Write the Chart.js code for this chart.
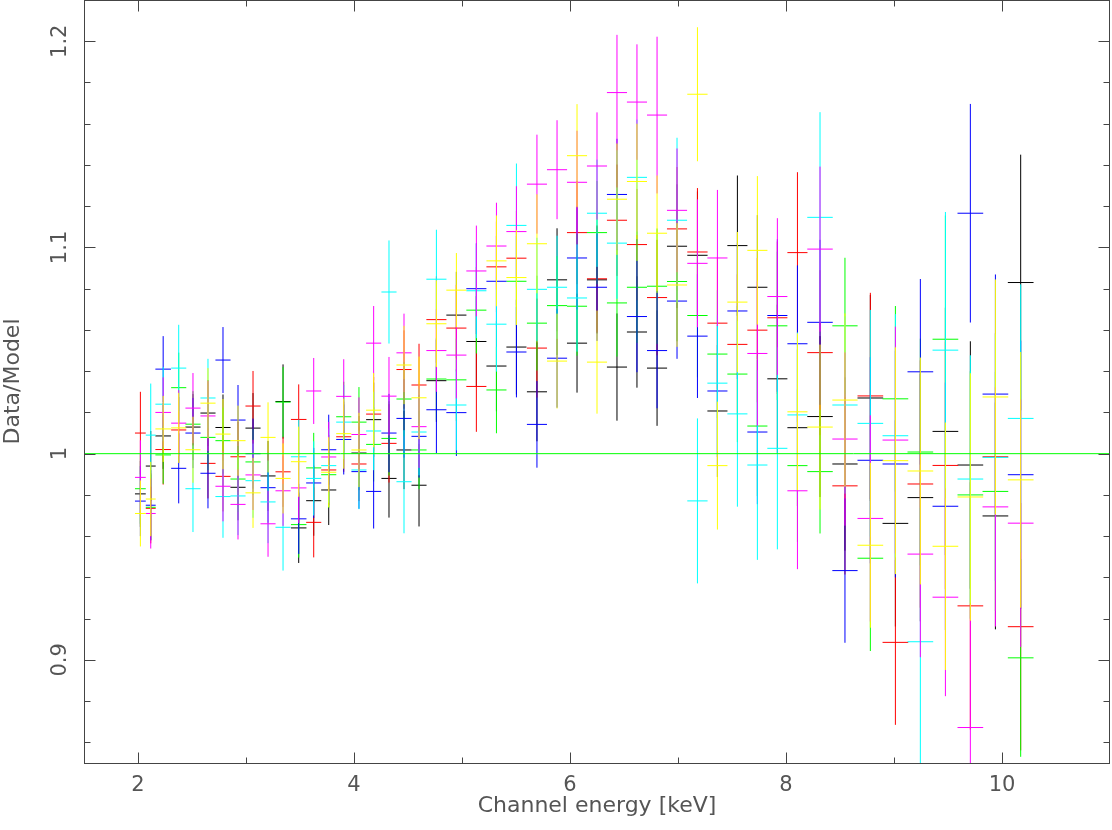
<!DOCTYPE html>
<html>
<head>
<meta charset="utf-8">
<script src="https://cdn.jsdelivr.net/npm/chart.js@4.4.1/dist/chart.umd.min.js"></script>
<style>
html,body{margin:0;padding:0;background:#ffffff;}
#wrap{width:1112px;height:830px;position:relative;}
</style>
</head>
<body>
<div id="wrap"><canvas id="c" width="1112" height="830"></canvas></div>
<script>
// Bin centres and half widths (keV), shared by all spectra
const energyKeV = [2.022,2.118,2.233,2.377,2.509,2.648,2.787,2.926,3.065,3.204,3.343,3.488,
  3.627,3.766,3.905,4.046,4.182,4.324,4.463,4.602,4.763,4.948,5.133,5.319,
  5.504,5.694,5.880,6.065,6.250,6.435,6.620,6.806,6.991,7.180,7.365,7.550,
  7.735,7.920,8.106,8.315,8.546,8.781,9.013,9.244,9.476,9.707,9.939,10.173];
const halfWidthKeV = [0.050,0.046,0.072,0.070,0.070,0.070,0.070,0.070,0.070,0.070,0.070,0.072,
  0.070,0.070,0.070,0.070,0.070,0.070,0.070,0.070,0.093,0.093,0.093,0.093,
  0.093,0.093,0.093,0.093,0.093,0.093,0.093,0.093,0.093,0.094,0.093,0.093,
  0.093,0.093,0.093,0.118,0.117,0.119,0.119,0.119,0.119,0.119,0.119,0.119];

// Data/Model ratios and 1-sigma errors per spectrum (null = no bin shown)
const ratioBlack = [0.9805,0.994,1.0086,null,1.0129,1.0197,1.0127,0.9837,1.0124,0.9892,1.0253,0.964,
  0.9772,0.9824,null,1.0003,1.0165,0.988,1.0018,0.9847,1.0354,1.0672,1.0544,1.0425,
  1.0517,1.030,1.0843,1.0536,1.0843,1.042,1.059,1.0415,1.1006,1.0962,1.0207,1.1009,
  1.0807,1.0363,1.0126,1.018,0.995,1.027,0.9662,0.9787,1.0108,0.9945,0.9698,1.083];
const errBlack = [0.016,0.017,0.016,null,0.016,0.016,0.016,0.016,0.017,0.017,0.018,0.017,
  0.017,0.017,null,0.018,0.018,0.019,0.019,0.020,0.020,0.021,0.022,0.022,
  0.023,0.024,0.025,0.024,0.026,0.026,0.027,0.028,0.030,0.031,0.032,0.034,
  0.035,0.036,0.038,0.039,0.042,0.050,0.050,0.060,0.060,0.060,0.055,0.062];

const ratioRed = [1.010,0.9735,1.002,1.0115,null,0.9953,0.989,0.9985,1.0231,null,0.9912,1.0166,
  0.9667,0.9921,1.0082,0.995,1.0192,1.005,1.0408,1.0333,1.065,1.0609,1.0326,1.0906,
  1.0948,1.0512,null,1.1072,1.0848,1.1132,1.1014,1.0757,1.109,1.0978,1.0633,1.053,
  1.0599,1.0659,1.0975,1.049,0.9844,1.028,0.9085,0.9853,0.9943,0.9262,0.9985,0.9161];
const errRed = [0.020,0.017,0.017,0.016,null,0.017,0.017,0.017,0.017,null,0.017,0.017,
  0.017,0.017,0.017,0.018,0.018,0.019,0.019,0.020,0.021,0.021,0.022,0.022,
  0.023,0.024,null,0.025,0.026,0.027,0.027,0.028,0.030,0.031,0.032,0.034,
  0.035,0.037,0.039,0.040,0.043,0.050,0.040,0.060,0.060,0.060,0.060,0.060];

const ratioGreen = [0.983,0.974,0.9994,1.032,1.0143,1.0079,1.0063,0.9877,0.996,null,1.025,0.9656,
  0.9931,0.9898,1.0179,1.0153,1.0045,1.0074,1.0265,1.0018,1.0362,1.0358,1.0696,1.0309,
  1.0836,1.0633,1.0718,1.0715,1.1072,1.0731,1.0807,1.0812,1.0835,1.067,1.0483,1.0386,
  1.0134,1.062,0.9942,0.9913,1.062,0.9493,1.0266,1.0008,1.0555,0.980,0.9817,0.901];
const errGreen = [0.017,0.016,0.014,0.017,0.016,0.016,0.016,0.016,0.016,null,0.017,0.016,
  0.017,0.016,0.017,0.017,0.018,0.018,0.018,0.019,0.020,0.020,0.021,0.021,
  0.022,0.023,0.024,0.024,0.025,0.026,0.027,0.028,0.029,0.030,0.031,0.033,
  0.034,0.036,0.037,0.030,0.033,0.045,0.045,0.055,0.060,0.060,0.058,0.048];

const ratioBlue = [0.977,0.975,1.041,0.9929,1.010,0.9905,1.0454,1.0163,1.000,0.9835,null,0.9684,
  0.9858,1.0019,1.0069,0.9913,0.9817,1.010,1.0171,1.0084,1.0213,1.0199,1.080,1.0836,
  1.0493,1.0142,1.0463,1.0949,1.0807,1.1257,1.0665,1.050,1.074,1.057,1.0304,1.0692,
  1.0105,1.067,1.0533,1.0637,0.9433,0.9968,0.995,1.0397,0.9745,1.1166,1.0289,0.9898];
const errBlue = [0.017,0.017,0.016,0.017,0.017,0.017,0.016,0.017,0.017,0.017,null,0.017,
  0.017,0.017,0.017,0.018,0.018,0.019,0.019,0.020,0.021,0.021,0.022,0.022,
  0.022,0.021,0.024,0.025,0.026,0.027,0.027,0.028,0.028,0.030,0.032,0.033,
  0.035,0.037,0.038,0.040,0.035,0.050,0.055,0.045,0.060,0.053,0.058,0.065];

const ratioCyan = [null,1.009,1.024,1.0415,0.983,1.027,0.9792,0.9795,0.9869,0.9766,0.9643,0.9985,
  0.988,0.9942,1.0153,0.9921,1.011,1.0784,0.9864,1.0105,1.0846,1.0236,1.079,1.0628,
  1.1107,1.0797,1.0807,1.0755,1.1166,1.1021,1.134,null,1.1132,0.9771,1.0342,1.0193,
  0.9945,1.0026,1.0188,1.1146,1.0236,1.0147,1.0087,0.9088,1.0502,0.9877,0.9982,1.0171];
const errCyan = [null,0.025,0.018,0.021,0.021,0.019,0.020,0.019,0.018,0.020,0.021,0.018,
  0.018,0.018,0.018,0.019,0.019,0.025,0.025,0.021,0.024,0.022,0.023,0.023,
  0.030,0.025,0.025,0.026,0.026,0.027,0.028,null,0.040,0.040,0.033,0.045,
  0.046,0.049,0.040,0.051,0.043,0.055,0.059,0.065,0.067,0.060,0.060,0.065];

const ratioMagenta = [0.9885,0.971,1.020,1.0148,1.0221,1.0183,0.9842,0.9754,0.9897,0.966,0.982,0.9834,
  1.0304,0.9984,1.0278,1.0093,1.0536,1.0279,1.0489,1.0131,1.050,1.0478,1.0886,1.1007,
  1.1077,1.1307,1.1377,1.1316,1.1395,1.1751,1.1705,1.1642,1.118,1.0923,1.0949,null,
  1.0486,1.0762,0.982,1.0992,1.0071,0.9686,1.0066,0.9513,0.9304,0.8672,0.9742,0.9663];
const errMagenta = [0.018,0.017,0.017,0.016,0.017,0.017,0.017,0.017,0.017,0.016,0.017,0.017,
  0.016,0.017,0.018,0.018,0.018,0.019,0.019,0.020,0.020,0.021,0.022,0.021,
  0.022,0.024,0.024,0.025,0.026,0.028,0.028,0.038,0.030,0.031,0.033,null,
  0.035,0.038,0.038,0.040,0.042,0.050,0.055,0.050,0.048,0.060,0.058,0.060];

const ratioYellow = [0.971,0.978,1.012,1.0125,1.0019,1.0245,1.0095,1.0063,0.981,1.0079,0.988,0.9961,
  null,0.991,1.0097,1.0018,1.0211,null,1.043,1.0271,1.063,1.0793,null,1.0935,
  1.0854,1.1018,1.0449,1.1445,1.0444,1.1234,1.132,1.1069,1.0818,1.1743,0.9942,1.0735,
  1.0986,null,1.0203,1.0129,1.026,0.9556,0.9966,0.9916,0.9551,0.979,1.0275,0.9873];
const errYellow = [0.016,0.018,0.016,0.017,0.016,0.017,0.017,0.017,0.017,0.017,0.017,0.017,
  null,0.017,0.017,0.018,0.018,null,0.019,0.020,0.021,0.018,null,0.022,
  0.023,0.024,0.023,0.025,0.025,0.027,0.028,0.028,0.030,0.0325,0.031,0.034,
  0.036,null,0.038,0.040,0.042,0.040,0.055,0.055,0.060,0.060,0.057,0.062];

const modelLevel = 1.0;
const xTickLabels = [2, 4, 6, 8, 10];

const spectra = [
  {name:'black',   color:'#000000', y:ratioBlack,   e:errBlack},
  {name:'red',     color:'#ff0000', y:ratioRed,     e:errRed},
  {name:'green',   color:'#00ff00', y:ratioGreen,   e:errGreen},
  {name:'blue',    color:'#0000ff', y:ratioBlue,    e:errBlue},
  {name:'cyan',    color:'#00ffff', y:ratioCyan,    e:errCyan},
  {name:'magenta', color:'#ff00ff', y:ratioMagenta, e:errMagenta},
  {name:'yellow',  color:'#ffff00', y:ratioYellow,  e:errYellow}
];

// Build error-cross segments (separated by gaps) for a spectrum
function crossSegments(yArr, eArr) {
  const pts = [];
  for (let i = 0; i < energyKeV.length; i++) {
    if (yArr[i] == null) continue;
    const x = energyKeV[i], h = halfWidthKeV[i], y = yArr[i], e = eArr[i];
    pts.push({x: x - h, y: y}, {x: x + h, y: y}, {x: x, y: null});
    pts.push({x: x, y: y - e}, {x: x, y: y + e}, {x: x, y: null});
  }
  return pts;
}

const datasets = spectra.map((s, i) => ({
  label: s.name,
  data: crossSegments(s.y, s.e),
  borderColor: s.color,
  backgroundColor: s.color,
  borderWidth: 1,
  pointRadius: 0,
  spanGaps: false,
  tension: 0,
  order: 20 - i
}));
datasets.push({
  label: 'model',
  data: [{x: 1.5, y: modelLevel}, {x: 11, y: modelLevel}],
  borderColor: '#00ff00',
  borderWidth: 1,
  pointRadius: 0,
  order: 0
});

const AXIS_COLOR = '#444444';
const TEXT_COLOR = '#555555';
const FONT = 'DejaVu Sans';

function isMult(v, step) {
  const r = v / step;
  return Math.abs(r - Math.round(r)) < 1e-6;
}

const framePlugin = {
  id: 'frame',
  afterDraw(chart) {
    const {ctx, chartArea: a} = chart;
    const xs = chart.scales.x, ys = chart.scales.y;
    ctx.save();
    ctx.strokeStyle = AXIS_COLOR;
    ctx.lineWidth = 1;
    const L = Math.round(a.left) + 0.5, R = Math.round(a.right) - 0.5;
    const T = Math.round(a.top) + 0.5, B = Math.round(a.bottom) + 0.5;
    ctx.strokeRect(L, T, R - L, B - T);
    ctx.beginPath();
    xs.ticks.forEach(t => {
      const v = t.value;
      if (!isMult(v, 1) || v <= xs.min || v >= xs.max) return;
      const px = Math.round(xs.getPixelForValue(v)) + 0.5;
      const len = isMult(v, 2) ? 11 : 6;
      ctx.moveTo(px, B); ctx.lineTo(px, B - len);
      ctx.moveTo(px, T); ctx.lineTo(px, T + len);
    });
    ys.ticks.forEach(t => {
      const v = t.value;
      if (!isMult(v, 0.02) || v <= ys.min || v >= ys.max) return;
      const py = Math.round(ys.getPixelForValue(v)) + 0.5;
      const len = isMult(v, 0.1) ? 11 : 6;
      ctx.moveTo(L, py); ctx.lineTo(L + len, py);
      ctx.moveTo(R, py); ctx.lineTo(R - len, py);
    });
    ctx.stroke();
    // rotated y tick labels
    ctx.fillStyle = TEXT_COLOR;
    ctx.font = '21px "' + FONT + '"';
    ctx.textAlign = 'center';
    ctx.textBaseline = 'middle';
    ys.ticks.forEach(t => {
      const v = t.value;
      if (!isMult(v, 0.1) || v < ys.min || v > ys.max) return;
      const py = ys.getPixelForValue(v);
      const label = String(parseFloat(v.toFixed(1)));
      ctx.save();
      ctx.translate(61, py);
      ctx.rotate(-Math.PI / 2);
      ctx.fillText(label, 0, 0);
      ctx.restore();
    });
    ctx.restore();
  }
};

new Chart(document.getElementById('c'), {
  type: 'line',
  data: {datasets: datasets},
  options: {
    responsive: false,
    animation: false,
    events: [],
    layout: {padding: {top: 0, right: 2, left: 0, bottom: 0}},
    plugins: {legend: {display: false}, tooltip: {enabled: false}},
    scales: {
      x: {
        type: 'linear',
        min: 1.5,
        max: 11,
        grid: {display: false, drawTicks: false},
        border: {display: false},
        ticks: {
          stepSize: 1,
          includeBounds: false,
          autoSkip: false,
          maxRotation: 0,
          padding: 10,
          color: TEXT_COLOR,
          font: {family: FONT, size: 21},
          callback: v => xTickLabels.includes(v) ? String(v) : ''
        },
        title: {
          display: true,
          text: 'Channel energy [keV]',
          color: TEXT_COLOR,
          font: {family: FONT, size: 22},
          padding: {top: 0, bottom: 11}
        },
        afterFit: s => { s.height = 67; s.paddingLeft = 0; s.paddingRight = 0; }
      },
      y: {
        type: 'linear',
        min: 0.85,
        max: 1.22,
        grid: {display: false, drawTicks: false},
        border: {display: false},
        ticks: {stepSize: 0.02, includeBounds: false, display: false},
        title: {
          display: true,
          text: 'Data/Model',
          color: TEXT_COLOR,
          font: {family: FONT, size: 22},
          padding: {top: 0, bottom: 0}
        },
        afterFit: s => { s.width = 84; s.paddingTop = 0; s.paddingBottom = 0; }
      }
    }
  },
  plugins: [framePlugin]
});
</script>
</body>
</html>
